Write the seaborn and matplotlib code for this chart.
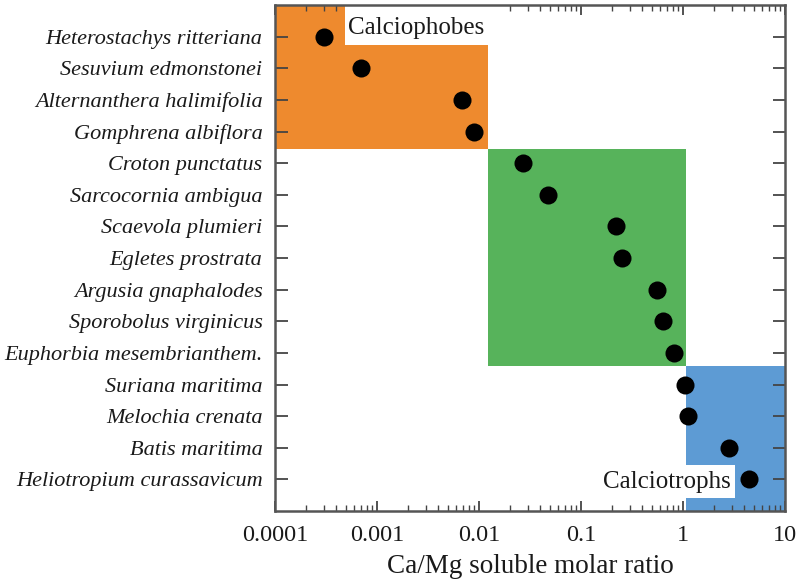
import matplotlib
matplotlib.use("Agg")
import matplotlib.pyplot as plt
from matplotlib.patches import Rectangle
from matplotlib.ticker import FixedLocator, FixedFormatter, LogLocator, NullFormatter
import numpy as np
import pandas as pd
import seaborn as sns

species = [
    "Heterostachys ritteriana",
    "Sesuvium edmonstonei",
    "Alternanthera halimifolia",
    "Gomphrena albiflora",
    "Croton punctatus",
    "Sarcocornia ambigua",
    "Scaevola plumieri",
    "Egletes prostrata",
    "Argusia gnaphalodes",
    "Sporobolus virginicus",
    "Euphorbia mesembrianthem.",
    "Suriana maritima",
    "Melochia crenata",
    "Batis maritima",
    "Heliotropium curassavicum",
]
ca_mg_ratio = [0.00030, 0.00070, 0.0068, 0.0090, 0.027, 0.048, 0.22, 0.25,
               0.56, 0.63, 0.81, 1.04, 1.11, 2.81, 4.42]

x_ticks = [0.0001, 0.001, 0.01, 0.1, 1, 10]
x_tick_labels = ["0.0001", "0.001", "0.01", "0.1", "1", "10"]

# Ratio bands of the three groups: (low, high, first row, last row)
bands = {
    "Calciophobes": (0.0001, 0.0122, -1.0, 3.55),
    "Intermediate": (0.0122, 1.06, 3.55, 10.42),
    "Calciotrophs": (1.06, 10.0, 10.42, 15.0),
}
band_colors = {"Calciophobes": "#EE8A2E", "Intermediate": "#57B35B", "Calciotrophs": "#5D9BD4"}

df = pd.DataFrame({"species": species, "ratio": ca_mg_ratio})

sns.set_style("ticks")
plt.rcParams["font.family"] = ["Liberation Serif", "DejaVu Serif"]
plt.rcParams["xtick.direction"] = "in"
plt.rcParams["ytick.direction"] = "in"

fig = plt.figure(figsize=(8.03, 5.84), dpi=100)
ax = fig.add_axes([275 / 803, 73 / 584, 510 / 803, 506 / 584])

for name, (lo, hi, r0, r1) in bands.items():
    ax.add_patch(Rectangle((lo, r0), hi - lo, r1 - r0, facecolor=band_colors[name],
                           edgecolor="none", zorder=0))

# white label boxes
ax.add_patch(Rectangle((0.00049, -1.0), 0.0122 - 0.00049, 1.27, facecolor="white",
                       edgecolor="none", zorder=1))
ax.add_patch(Rectangle((0.151, 13.56), 3.22 - 0.151, 1.04, facecolor="white",
                       edgecolor="none", zorder=1))
ax.text(0.0024, -0.27, "Calciophobes", fontsize=18, ha="center", va="center",
        color="#1a1a1a", zorder=2)
ax.text(0.69, 14.08, "Calciotrophs", fontsize=18, ha="center", va="center",
        color="#1a1a1a", zorder=2)

sns.stripplot(data=df, x="ratio", y="species", jitter=False, color="black",
              size=13, linewidth=0, log_scale=True, ax=ax, zorder=3)

ax.set_xlim(0.0001, 10)
ax.set_ylim(15, -1)
ax.xaxis.set_major_locator(FixedLocator(x_ticks))
ax.xaxis.set_major_formatter(FixedFormatter(x_tick_labels))
ax.xaxis.set_minor_locator(LogLocator(base=10, subs=np.arange(2, 10)))
ax.xaxis.set_minor_formatter(NullFormatter())

ax.tick_params(axis="x", which="major", length=7, width=1.3, color="#444444",
               labelsize=17.5, top=True, pad=10, labelcolor="#1a1a1a")
ax.tick_params(axis="x", which="minor", length=4, width=1.0, color="#444444", top=True)
ax.tick_params(axis="y", which="major", length=9, width=1.3, color="#444444",
               labelsize=16, right=True, pad=9, labelcolor="#1a1a1a")
for lbl in ax.get_yticklabels():
    lbl.set_fontstyle("italic")

for sp in ax.spines.values():
    sp.set_visible(True)
    sp.set_color("#555555")
    sp.set_linewidth(1.8)

ax.set_ylabel("")
ax.set_xlabel("Ca/Mg soluble molar ratio", fontsize=19.5, color="#1a1a1a", labelpad=6)

fig.savefig("out.png", dpi=100)
